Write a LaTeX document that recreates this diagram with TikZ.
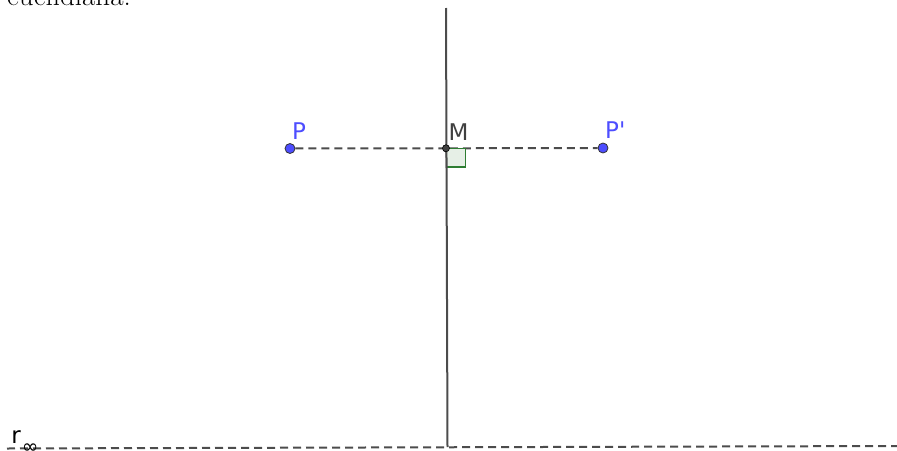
\documentclass[tikz,border=0pt]{standalone}
\usepackage{fontspec}
\newfontfamily\ggb{DejaVu Sans}
\begin{document}
\begin{tikzpicture}[x=1pt,y=-1pt,
  ln/.style={draw=black!70,line width=2pt},
  dsh/.style={draw=black!70,line width=2pt,dash pattern=on 8pt off 5pt},
  bpt/.style={circle,fill={rgb,255:red,77;green,77;blue,255},draw=black!80,line width=0.8pt,inner sep=0pt,minimum size=10pt},
  mpt/.style={circle,fill=black!75,draw=black,line width=0.5pt,inner sep=0pt,minimum size=7pt},
  lbl/.style={font=\ggb\fontsize{23}{26}\selectfont,inner sep=0pt,anchor=base west}]
\useasboundingbox (0,0) rectangle (897,450);
\clip (0,0) rectangle (897,450);
\definecolor{gblue}{RGB}{77,77,255}
\definecolor{ggreen}{RGB}{46,125,50}
% top text (cut off)
\node[anchor=base west,inner sep=0pt] (txt) at (7,5) {\fontsize{29}{34}\selectfont euclidiana.};
% coordinates
\coordinate (top) at (446,8);
\coordinate (bot) at (447.5,447);
\coordinate (rl) at (7,448.5);
\coordinate (rr) at (897,446);
% lines
\draw[ln] (top) -- (bot);
\draw[dsh] (rl) -- (rr);
\node[bpt] (P) at (290,148.5) {};
\node[bpt] (Pp) at (603,148) {};
\node[mpt] (M) at (446,148.3) {};
\draw[dsh] (P) -- (M);
\draw[dsh] (M) -- (Pp);
% right angle mark
\draw[draw=ggreen,line width=1.6pt,fill=ggreen!12] (446.5,148.3) rectangle (465.5,167);
\draw[ln] (446.4,148.3) -- (446.6,168);
\node[mpt] (M2) at (446,148.3) {};
% labels
\node[lbl,text=gblue] (Pl) at (292,139) {P};
\node[lbl,text=gblue] (Ppl) at (605,138.5) {P'};
\node[lbl,text=black!75] (Ml) at (448.4,140.5) {M};
\node[lbl,text=black] (rlab) at (11.3,443) {r\kern1pt\raisebox{-10.5pt}{\fontsize{20}{24}\selectfont ∞}};
\end{tikzpicture}
\end{document}
